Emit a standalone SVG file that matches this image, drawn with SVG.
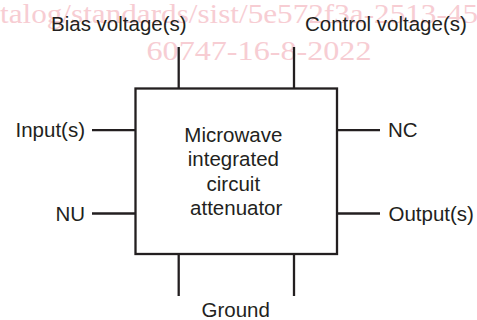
<svg xmlns="http://www.w3.org/2000/svg" width="477" height="320" viewBox="0 0 477 320">
  <style>
    .wm { font-family: "Liberation Serif", "Times New Roman", serif; font-size: 27px; fill: #f7cdd3; }
    .lbl { font-family: "Liberation Sans", Arial, sans-serif; font-size: 20.5px; fill: #231f20; }
    .ln { stroke: #231f20; stroke-width: 2.3; fill: none; }
  </style>
  <rect width="477" height="320" fill="#ffffff"/>
  <g id="watermark">
    <text class="wm" x="0" y="23" textLength="478" lengthAdjust="spacingAndGlyphs">talog/standards/sist/5e572f3a-2513-45</text>
    <text class="wm" x="146.5" y="60" textLength="225" lengthAdjust="spacingAndGlyphs">60747-16-8-2022</text>
  </g>
  <g id="connectors">
    <line class="ln" x1="178.7" y1="47" x2="178.7" y2="88.5"/>
    <line class="ln" x1="294" y1="47" x2="294" y2="88.5"/>
    <line class="ln" x1="178.7" y1="254" x2="178.7" y2="296"/>
    <line class="ln" x1="294" y1="254" x2="294" y2="296"/>
    <line class="ln" x1="92" y1="130.2" x2="135.5" y2="130.2"/>
    <line class="ln" x1="92" y1="213.5" x2="135.5" y2="213.5"/>
    <line class="ln" x1="337" y1="130.2" x2="380" y2="130.2"/>
    <line class="ln" x1="337" y1="213.5" x2="380" y2="213.5"/>
  </g>
  <g id="attenuator">
    <rect class="ln" x="135.5" y="88.5" width="201.5" height="165.5"/>
    <text class="lbl" text-anchor="middle">
      <tspan x="236.2" y="141.7">Microwave</tspan>
      <tspan x="236.2" y="166.2">integrated</tspan>
      <tspan x="236.2" y="190.7">circuit</tspan>
      <tspan x="236.2" y="215.2">attenuator</tspan>
    </text>
  </g>
  <g id="bias">
    <text class="lbl" x="51" y="30.5">Bias voltage(s)</text>
  </g>
  <g id="control">
    <text class="lbl" x="305" y="30.5">Control voltage(s)</text>
  </g>
  <g id="input">
    <text class="lbl" x="85" y="137" text-anchor="end">Input(s)</text>
  </g>
  <g id="nu">
    <text class="lbl" x="85" y="220.5" text-anchor="end">NU</text>
  </g>
  <g id="nc">
    <text class="lbl" x="388" y="137">NC</text>
  </g>
  <g id="output">
    <text class="lbl" x="388.5" y="220.5">Output(s)</text>
  </g>
  <g id="ground">
    <text class="lbl" x="235.7" y="317.3" text-anchor="middle">Ground</text>
  </g>
</svg>
